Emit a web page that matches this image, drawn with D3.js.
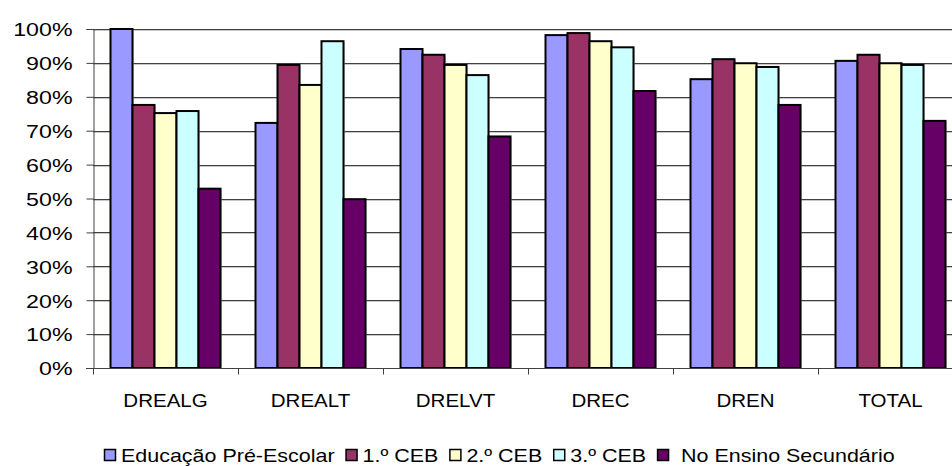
<!DOCTYPE html>
<html><head><meta charset="utf-8">
<script src="https://cdn.jsdelivr.net/npm/d3@7"></script>
<style>
html,body{margin:0;padding:0;background:#fff;overflow:hidden}
text{font-family:"Liberation Sans",Arial,sans-serif;fill:#000}
</style></head>
<body>
<svg id="c" width="952" height="466"></svg>
<script>
const categories = ["DREALG","DREALT","DRELVT","DREC","DREN","TOTAL"];
const seriesNames = ["Educação Pré-Escolar","1.º CEB","2.º CEB","3.º CEB","No Ensino Secundário"];
const preEscolar = [100, 72.3, 94.1, 98.2, 85.2, 90.6];
const ceb1 = [77.6, 89.4, 92.4, 98.8, 91.1, 92.4];
const ceb2 = [75.2, 83.5, 89.4, 96.4, 89.9, 89.9];
const ceb3 = [75.8, 96.4, 86.4, 94.6, 88.8, 89.4];
const secundario = [52.9, 49.8, 68.3, 81.7, 77.6, 72.9];
const yTicks = [0,10,20,30,40,50,60,70,80,90,100];
const colors = ["#9999FF","#993366","#FFFFCC","#CCFFFF","#660066"];
const seriesValues = [preEscolar, ceb1, ceb2, ceb3, secundario];

(function(){
const svg = d3.select("#c");
svg.append("rect").attr("width",952).attr("height",466).attr("fill","#fff");

const pl = 93, pr = 963, pt = 29, pb = 368;
const step = (pr-pl)/categories.length;
const x0 = d3.scaleBand().domain(categories).range([pl, pr]).padding(0);
const xs = d3.scaleBand().domain(d3.range(5)).range([0, 110]);
const y = d3.scaleLinear().domain([0,100]).range([pb, pt]);

// gridlines
const g = svg.append("g");
yTicks.filter(t=>t>0).forEach(t=>{
  g.append("line").attr("x1",pl).attr("x2",952).attr("y1",Math.round(y(t))+1.5).attr("y2",Math.round(y(t))+1.5).attr("stroke","#c8c8c8").attr("stroke-width",1);
  g.append("line").attr("x1",pl).attr("x2",952).attr("y1",Math.round(y(t))+0.5).attr("y2",Math.round(y(t))+0.5).attr("stroke","#404040").attr("stroke-width",1);
});

// bars
categories.forEach((c,i)=>{
  const gx = x0(c) + (x0.bandwidth()-110)/2;
  seriesValues.forEach((vals,s)=>{
    const v = vals[i];
    const bx = gx + xs(s);
    svg.append("rect")
      .attr("x", bx+1).attr("y", y(v)+1)
      .attr("width", xs.bandwidth()).attr("height", pb - y(v))
      .attr("fill","#bbb");
    svg.append("rect")
      .attr("x", bx).attr("y", y(v))
      .attr("width", xs.bandwidth()).attr("height", pb - y(v))
      .attr("fill", colors[s]).attr("stroke","#000").attr("stroke-width",2);
  });
});

// y axis
const yAxis = d3.axisLeft(y).tickValues(yTicks).tickSize(7).tickPadding(14).tickFormat(d=>d+"%");
const ya = svg.append("g").attr("transform",`translate(${pl+0.5},0)`).call(yAxis);
ya.select(".domain").attr("stroke","#404040");
ya.selectAll(".tick line").attr("stroke","#404040");
ya.selectAll(".tick text").style("font-size","19px").attr("x",0).attr("dy","0.36em")
  .attr("transform","translate(-21,0) scale(1.22,1)");

// x axis
const xAxis = d3.axisBottom(x0).tickSize(0).tickPadding(0);
const xa = svg.append("g").attr("transform",`translate(0,${pb+0.5})`).call(xAxis);
xa.select(".domain").attr("stroke","#404040").attr("d",`M${pl-7},0H963`);
xa.selectAll(".tick text").style("font-size","19px").attr("y",0).attr("dy","0")
  .attr("transform","translate(0,38) scale(1.08,1)");
categories.concat(["_end"]).forEach((c,i)=>{
  const tx = pl + i*step;
  xa.append("line").attr("x1",Math.round(tx)+0.5).attr("x2",Math.round(tx)+0.5).attr("y1",0).attr("y2",6).attr("stroke","#404040");
});

// legend
const legend = svg.append("g").attr("transform","translate(0,455)");
let cx = 104;
const sx = 1.13;
seriesNames.forEach((n,s)=>{
  legend.append("rect").attr("x",cx+0.5).attr("y",-5.5).attr("width",11).attr("height",11)
    .attr("fill",colors[s]).attr("stroke","#000").attr("stroke-width",1.5);
  cx += 12 + (s===4?12:5);
  const t = legend.append("text").attr("x",0).attr("y",0).attr("dy","0.36em")
    .style("font-size","19px").attr("transform",`translate(${cx},0) scale(${sx},1)`).text(n);
  cx += t.node().getComputedTextLength()*sx + 11;
});
})();
</script>
</body></html>
